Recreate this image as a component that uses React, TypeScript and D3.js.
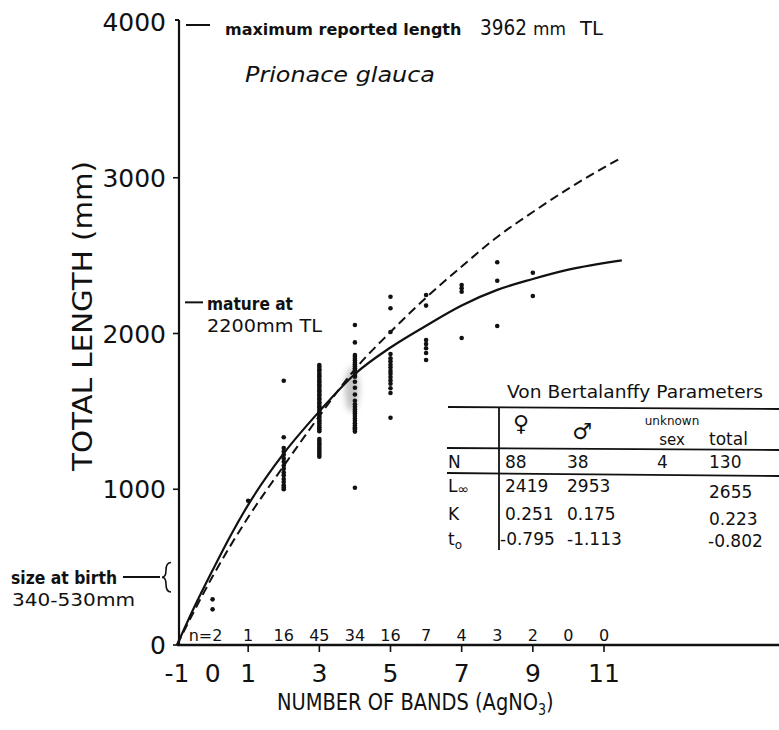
import React from 'react';
import * as d3 from 'd3';

// ---------- data ----------
const yTicks = [0, 1000, 2000, 3000, 4000];
const xTickLabels = [-1, 0, 1, 3, 5, 7, 9, 11];
const xTickMarks = [1, 3, 5, 7, 9, 11];
const countBands = [0, 1, 2, 3, 4, 5, 6, 7, 8, 9, 10, 11];
const countLabels = ['n=2', '1', '16', '45', '34', '16', '7', '4', '3', '2', '0', '0'];

// solid growth curve
const solidBands = [-1, -0.5, 0, 0.5, 1, 2, 3, 4, 5, 6, 7, 8, 9, 10, 11.5];
const solidLen = [0, 250, 480, 700, 900, 1230, 1500, 1740, 1910, 2050, 2180, 2280, 2350, 2410, 2470];
// dashed growth curve
const dashedBands = [-1, 0, 1, 2, 3, 4, 5, 6, 7, 8, 9, 10, 11.5];
const dashedLen = [0, 440, 820, 1150, 1470, 1770, 2010, 2230, 2430, 2620, 2780, 2930, 3130];

// observations by band
const band0 = [293, 229];
const band1 = [926];
const band2 = [1697, 1334, 1265, 1242, 1221, 1197, 1176, 1152, 1131, 1108, 1090, 1066, 1047, 1026, 1012, 1000];
const band3 = [1798, 1786, 1771, 1762, 1747, 1733, 1724, 1709, 1697, 1686, 1671, 1662, 1646, 1633, 1624, 1609,
  1598, 1583, 1574, 1559, 1548, 1533, 1524, 1509, 1496, 1487, 1470, 1461, 1446, 1436, 1423, 1409, 1398, 1386,
  1372, 1322, 1310, 1296, 1284, 1271, 1259, 1247, 1234, 1221, 1209];
const band4 = [2055, 1943, 1862, 1851, 1838, 1826, 1812, 1801, 1789, 1777, 1766, 1755, 1744, 1733, 1723, 1690,
  1652, 1608, 1568, 1545, 1530, 1514, 1500, 1486, 1471, 1455, 1440, 1424, 1410, 1396, 1382, 1370, 1390, 1010];
const band5 = [2236, 2162, 2010, 1868, 1841, 1822, 1800, 1781, 1760, 1741, 1720, 1699, 1677, 1648, 1618, 1459];
const band6 = [2247, 2179, 1958, 1932, 1905, 1875, 1830];
const band7 = [2311, 2290, 2268, 1971];
const band8 = [2457, 2339, 2048];
const band9 = [2390, 2241];
const observations: [number, number[]][] = [
  [0, band0], [1, band1], [2, band2], [3, band3], [4, band4], [5, band5],
  [6, band6], [7, band7], [8, band8], [9, band9],
];

// table
const tableTitle = 'Von Bertalanffy Parameters';
const rowLabels = ['N', 'L', 'K', 't'];
const femaleVals = ['88', '2419', '0.251', '-0.795'];
const maleVals = ['38', '2953', '0.175', '-1.113'];
const unknownVals = ['4', '', '', ''];
const totalVals = ['130', '2655', '0.223', '-0.802'];

// ---------- layout ----------
const W = 779;
const H = 730;
const FONT = "'DejaVu Sans', sans-serif";

export default function App() {
  const x = d3.scaleLinear().domain([-1, 11]).range([177, 604]);
  const y = d3.scaleLinear().domain([0, 4000]).range([645, 22]);

  const line = d3
    .line<[number, number]>()
    .x((d) => x(d[0]))
    .y((d) => y(d[1]))
    .curve(d3.curveMonotoneX);

  const solidPath = line(solidBands.map((b, i) => [b, solidLen[i]]) as [number, number][]) || '';
  const dashedPath = line(dashedBands.map((b, i) => [b, dashedLen[i]]) as [number, number][]) || '';

  const axisX = x(-1) + 2;

  const rowBase = [468, 492, 520, 545];
  const totalBase = [468, 498, 525, 547];

  return (
    <svg
      width={W}
      height={H}
      viewBox={`0 0 ${W} ${H}`}
      style={{ position: 'absolute', left: 0, top: 0, background: '#fff' }}
      fontFamily={FONT}
    >
      <defs>
        <filter id="blur" x="-50%" y="-50%" width="200%" height="200%">
          <feGaussianBlur stdDeviation="3" />
        </filter>
      </defs>
      <rect x={0} y={0} width={W} height={H} fill="#fff" />

      {/* gray smudge */}
      <ellipse cx={x(4) - 3} cy={y(1640)} rx={7} ry={22} fill="#777" opacity={0.45} filter="url(#blur)" />

      {/* axes */}
      <line x1={axisX} x2={axisX} y1={y(0)} y2={y(4000) - 2} stroke="#111" strokeWidth={2.2} />
      <line x1={axisX - 4} x2={axisX} y1={y(4000) - 2} y2={y(4000) - 2} stroke="#111" strokeWidth={2} />
      <line x1={x(-1)} x2={W} y1={y(0)} y2={y(0)} stroke="#111" strokeWidth={2.4} />
      {yTicks.filter((t) => t < 4000).map((t) => (
        <line key={'yt' + t} x1={axisX - 6} x2={axisX} y1={y(t)} y2={y(t)} stroke="#111" strokeWidth={1.6} />
      ))}
      {xTickMarks.map((t) => (
        <line key={'xt' + t} x1={x(t)} x2={x(t)} y1={y(0)} y2={y(0) + 7} stroke="#111" strokeWidth={1.6} />
      ))}
      {yTicks.map((t) => (
        <text key={'yl' + t} x={166} y={y(t) + 9} fontSize={25} textAnchor="end" fill="#111">
          {t}
        </text>
      ))}
      {xTickLabels.map((t) => (
        <text key={'xl' + t} x={x(t)} y={682} fontSize={25} textAnchor="middle" fill="#111">
          {t}
        </text>
      ))}

      {/* axis titles */}
      <text transform="translate(277,710) scale(0.845,1)" fontSize={23} fill="#111">
        NUMBER OF BANDS (AgNO<tspan fontSize={15} dy={5}>3</tspan>
        <tspan dy={-5}>)</tspan>
      </text>
      <text
        transform={`translate(92,316) rotate(-90)`}
        fontSize={26}
        textAnchor="middle"
        fill="#111"
        textLength={310}
        lengthAdjust="spacingAndGlyphs"
      >
        TOTAL LENGTH (mm)
      </text>

      {/* counts */}
      {countBands.map((b, i) => (
        <text
          key={'c' + i}
          x={i === 0 ? x(b) - 7 : x(b)}
          y={641}
          fontSize={16}
          textAnchor="middle"
          fill="#111"
        >
          {countLabels[i]}
        </text>
      ))}

      {/* curves */}
      <path d={dashedPath} fill="none" stroke="#111" strokeWidth={2} strokeDasharray="9,5" />
      <path d={solidPath} fill="none" stroke="#111" strokeWidth={2.2} />

      {/* observations */}
      {observations.map(([b, vals]) =>
        vals.map((v, j) => <circle key={`o${b}-${j}`} cx={x(b)} cy={y(v)} r={2.3} fill="#111" />)
      )}

      {/* annotations */}
      <line x1={186} x2={210} y1={25} y2={25} stroke="#111" strokeWidth={2} />
      <text x={225} y={35} fontSize={16} fontWeight="bold" fill="#111">
        maximum reported length
      </text>
      <text x={480} y={35} fontSize={21} fill="#111" textLength={47} lengthAdjust="spacingAndGlyphs">3962</text>
      <text x={533} y={35} fontSize={18} fill="#111" textLength={33} lengthAdjust="spacingAndGlyphs">mm</text>
      <text x={580} y={35} fontSize={19} fill="#111" textLength={23} lengthAdjust="spacingAndGlyphs">TL</text>
      <text x={245} y={82} fontSize={22} fontStyle="italic" fill="#111" textLength={190} lengthAdjust="spacingAndGlyphs">
        Prionace glauca
      </text>

      <line x1={185} x2={203} y1={y(2200)} y2={y(2200)} stroke="#111" strokeWidth={2} />
      <text x={207} y={310} fontSize={17} fontWeight="bold" fill="#111" textLength={86} lengthAdjust="spacingAndGlyphs">
        mature at
      </text>
      <text x={207} y={332} fontSize={18} fill="#111" textLength={115} lengthAdjust="spacingAndGlyphs">
        2200mm TL
      </text>

      <line x1={123} x2={160} y1={577} y2={577} stroke="#111" strokeWidth={1.8} />
      <path
        d={`M ${axisX - 8} ${y(530)} Q ${axisX - 13} ${y(530)} ${axisX - 13} ${y(480)} Q ${axisX - 13} ${y(435)} ${axisX - 17} ${y(435)} Q ${axisX - 13} ${y(435)} ${axisX - 13} ${y(390)} Q ${axisX - 13} ${y(340)} ${axisX - 8} ${y(340)}`}
        fill="none"
        stroke="#111"
        strokeWidth={1.6}
      />
      <text x={11} y={584} fontSize={17} fontWeight="bold" fill="#111" textLength={106} lengthAdjust="spacingAndGlyphs">
        size at birth
      </text>
      <text x={12} y={606} fontSize={18} fill="#111" textLength={123} lengthAdjust="spacingAndGlyphs">
        340-530mm
      </text>

      {/* table */}
      <text x={507} y={398} fontSize={17} fill="#111" textLength={256} lengthAdjust="spacingAndGlyphs">
        {tableTitle}
      </text>
      <line x1={448} x2={779} y1={407} y2={409} stroke="#111" strokeWidth={1.8} />
      <line x1={447} x2={779} y1={448} y2={450} stroke="#111" strokeWidth={1.8} />
      <line x1={447} x2={779} y1={473} y2={476} stroke="#111" strokeWidth={1.8} />
      <line x1={499} x2={499} y1={407} y2={550} stroke="#111" strokeWidth={1.8} />
      <text x={521} y={431} fontSize={22} textAnchor="middle" fill="#111">♀</text>
      <text x={582} y={439} fontSize={22} textAnchor="middle" fill="#111">♂</text>
      <text x={672} y={425} fontSize={12} textAnchor="middle" fill="#111">unknown</text>
      <text x={672} y={445} fontSize={15} textAnchor="middle" fill="#111">sex</text>
      <text x={709} y={445} fontSize={17} fill="#111">total</text>

      {rowLabels.map((lab, i) => (
        <text key={'rl' + i} x={448} y={rowBase[i]} fontSize={17} fill="#111">
          {lab}
          {i === 1 && <tspan fontSize={14} dy={2}>∞</tspan>}
          {i === 3 && <tspan fontSize={12} dy={4}>o</tspan>}
        </text>
      ))}
      {femaleVals.map((v, i) => (
        <text key={'f' + i} x={i === 3 ? 500 : 505} y={rowBase[i]} fontSize={17} fill="#111">{v}</text>
      ))}
      {maleVals.map((v, i) => (
        <text key={'m' + i} x={567} y={rowBase[i]} fontSize={17} fill="#111">{v}</text>
      ))}
      {unknownVals.map((v, i) => (
        <text key={'u' + i} x={657} y={rowBase[i]} fontSize={17} fill="#111">{v}</text>
      ))}
      {totalVals.map((v, i) => (
        <text key={'t' + i} x={i === 3 ? 708 : 709} y={totalBase[i]} fontSize={17} fill="#111">{v}</text>
      ))}
    </svg>
  );
}
